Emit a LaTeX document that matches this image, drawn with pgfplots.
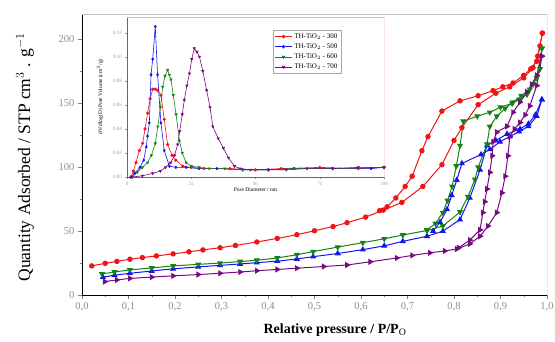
\documentclass[border=0pt]{standalone}
\usepackage{fontspec}
\setmainfont{Liberation Serif}
\usepackage{pgfplots}
\pgfplotsset{compat=1.18}

\definecolor{cRed}{RGB}{240,20,20}
\definecolor{cBlue}{RGB}{20,20,240}
\definecolor{cGreen}{RGB}{20,130,20}
\definecolor{cPurple}{RGB}{120,10,130}
\definecolor{frameRed}{RGB}{200,40,40}

\begin{document}
\begin{tikzpicture}
\useasboundingbox (-82pt,-46pt) rectangle (473pt,295pt);
% ---------------- main isotherm plot ----------------
\begin{axis}[
  name=main,
  at={(0pt,0pt)}, anchor=south west,
  scale only axis, width=465pt, height=281pt,
  xmin=0, xmax=1, ymin=0, ymax=220,
  axis x line*=bottom, axis y line*=left,
  tick align=outside,
  xtick={0,0.1,...,1.0}, minor x tick num=1,
  ytick={0,50,...,200}, minor y tick num=1,
  major tick length=4pt, minor tick length=2pt,
  /pgf/number format/assume math mode=true,
  xticklabel style={font=\fontsize{10.5}{11}\selectfont, text=black!45,
    /pgf/number format/.cd, fixed, fixed zerofill, precision=1, use comma},
  yticklabel style={font=\fontsize{10.5}{11}\selectfont, text=black!45},
  every axis x label/.style={at={(rel axis cs:0.544,0)}, yshift=-35pt, anchor=center},
  every axis y label/.style={at={(rel axis cs:0,0.49)}, xshift=-57pt, rotate=90, anchor=center},
  xlabel={\fontsize{14}{15}\selectfont\bfseries Relative pressure / P/P$_{\mathrm{O}}$},
  ylabel={\fontsize{17.5}{18}\selectfont Quantity Adsorbed / STP cm$^{3}$ . g$^{-1}$},
  every axis plot/.append style={line width=1pt, mark size=2.2pt},
]
% TH-TiO2 - 300
\addplot[cRed, mark=*] coordinates {
(0.021,22.8)(0.05,24.8)(0.075,26.3)(0.103,28)(0.13,29.3)(0.16,30.6)(0.196,32.2)
(0.23,33.8)(0.26,35.3)(0.297,37)(0.33,38.8)(0.376,41.5)(0.42,44.3)(0.462,47.2)
(0.50,50.3)(0.54,53.6)(0.57,56.6)(0.61,61)(0.648,66.5)(0.688,72.5)(0.733,85)
(0.774,102)(0.80,121)(0.817,131)(0.852,149)(0.89,158)(0.92,163)(0.95,170)
(0.97,178)(0.98,187)(0.99,205)};
\addplot[cRed, mark=*] coordinates {
(0.99,205)(0.985,195)(0.978,183)(0.965,177)(0.95,172)(0.927,166)(0.905,163)
(0.884,160)(0.852,156)(0.813,152)(0.774,144)(0.744,124)(0.731,113)(0.71,93)
(0.695,85)(0.675,76)(0.656,69)(0.64,66)};
% TH-TiO2 - 500
\addplot[cBlue, mark=triangle*, mark size=2.6pt] coordinates {
(0.045,14)(0.07,15.5)(0.103,17)(0.15,18.8)(0.196,20.5)(0.25,22)(0.297,23.2)
(0.34,24.3)(0.376,25.3)(0.42,26.5)(0.462,28.2)(0.497,30)(0.55,32.5)(0.604,35.5)
(0.65,38.5)(0.69,42)(0.742,46)(0.776,50)(0.813,59)(0.834,76)(0.856,98)
(0.871,117)(0.89,121)(0.914,126)(0.942,130)(0.96,134)(0.975,141)(0.989,153)};
\addplot[cBlue, mark=triangle*, mark size=2.6pt] coordinates {
(0.989,153)(0.978,140)(0.96,132)(0.94,128)(0.92,124)(0.899,120)(0.877,114)
(0.858,110)(0.817,103)(0.806,90)(0.795,78)(0.785,67)(0.77,57)(0.755,50)};
% TH-TiO2 - 600
\addplot[cGreen, mark=triangle*, mark size=2.6pt, mark options={rotate=180}] coordinates {
(0.043,16.5)(0.07,18)(0.103,19.7)(0.15,21.2)(0.196,22.8)(0.25,24)(0.297,25)
(0.34,26.2)(0.376,27.2)(0.42,29)(0.462,31.5)(0.497,34)(0.55,37.5)(0.604,41)
(0.65,44)(0.69,47)(0.742,50.5)(0.776,54)(0.813,65)(0.83,77)(0.845,90.5)
(0.852,100)(0.871,118)(0.877,132)(0.892,140)(0.91,146)(0.927,151)(0.945,156)
(0.963,161)(0.978,170)(0.989,193)};
\addplot[cGreen, mark=triangle*, mark size=2.6pt, mark options={rotate=180}] coordinates {
(0.989,193)(0.985,177)(0.97,165)(0.957,157)(0.94,153)(0.925,150)(0.9,147)
(0.877,143)(0.85,140)(0.82,136)(0.813,117)(0.805,101)(0.796,85)(0.786,74)
(0.776,64.5)(0.76,56)(0.742,51)};
% TH-TiO2 - 700
\addplot[cPurple, mark=triangle*, mark size=2.6pt, mark options={rotate=270}] coordinates {
(0.049,10.5)(0.075,11.8)(0.103,13)(0.15,14)(0.196,15)(0.25,16)(0.297,17)
(0.34,18)(0.376,19)(0.42,20)(0.462,21)(0.52,22.3)(0.57,23.5)(0.62,26)
(0.677,29)(0.71,31)(0.748,33)(0.78,34.5)(0.806,36)(0.834,40)(0.856,46)
(0.873,54)(0.892,64.5)(0.903,80)(0.91,93)(0.916,109)(0.92,124)(0.93,130)
(0.942,135)(0.953,141)(0.963,148)(0.978,164)(0.989,187)};
\addplot[cPurple, mark=triangle*, mark size=2.6pt, mark options={rotate=270}] coordinates {
(0.989,187)(0.978,172)(0.967,165)(0.957,159)(0.942,151)(0.927,143)(0.914,132)
(0.892,127.5)(0.884,120)(0.882,109)(0.877,96)(0.871,83)(0.866,73)(0.862,64.5)
(0.856,51)(0.834,43)(0.81,37)};
% frame: grey top edge, red right edge
\draw[black!25, line width=0.8pt] (rel axis cs:0,1) -- (rel axis cs:1,1);
\draw[frameRed, line width=0.8pt] (rel axis cs:1,0) -- (rel axis cs:1,1);
\end{axis}

% ---------------- inset: pore size distribution ----------------
\begin{axis}[
  name=inset,
  at={(45pt,118pt)}, anchor=south west,
  scale only axis, width=257pt, height=160pt,
  xmin=0, xmax=100, ymin=0, ymax=0.133,
  axis background/.style={fill=white},
  axis x line*=bottom, axis y line*=left,
  axis line style={black!60, line width=0.5pt},
  tick align=outside, major tick length=1.5pt,
  tick style={black!40},
  xtick={0,25,50,75,100},
  ytick={0,0.02,0.04,0.06,0.08,0.10,0.12},
  /pgf/number format/assume math mode=true,
  xticklabel style={font=\fontsize{5}{6}\selectfont, text=black!40},
  yticklabel style={font=\fontsize{5}{6}\selectfont, text=black!40,
    /pgf/number format/.cd, fixed, fixed zerofill, precision=2},
  scaled y ticks=false,
  every axis x label/.style={at={(rel axis cs:0.5,0)}, yshift=-13pt, anchor=center},
  every axis y label/.style={at={(rel axis cs:0,0.5)}, xshift=-27pt, rotate=90, anchor=center},
  xlabel={\fontsize{5.5}{6}\selectfont Pore Diameter / nm},
  ylabel={\fontsize{5.5}{6}\selectfont dV/dlog(D) Pore Volume (cm$^{3}$/g)},
  every axis plot/.append style={line width=0.6pt, mark size=1.3pt},
  legend style={at={(0.568,0.92)}, anchor=north west, draw=black!35,
    font=\fontsize{7}{8}\selectfont, row sep=0pt, inner sep=1.5pt},
  legend cell align=left,
  legend image post style={mark size=1.5pt},
]
\addplot[cRed, mark=*] coordinates {
(1.5,0)(2.5,0.005)(3.5,0.012)(4.8,0.022)(6.1,0.028)(7,0.040)(8,0.053)(9,0.065)
(10,0.073)(11,0.073)(12,0.072)(13.2,0.068)(14.5,0.048)(15.8,0.027)(17.5,0.018)
(19,0.014)(21.7,0.009)(25,0.008)(30,0.007)(40,0.007)(50,0.006)(60,0.007)
(75,0.008)(90,0.007)(100,0.008)};
\addlegendentry{TH-TiO$_2$ - 300}
\addplot[cBlue, mark=diamond*] coordinates {
(1.5,0)(3,0.003)(5,0.008)(6.5,0.014)(7.5,0.025)(8.0,0.034)(8.7,0.045)
(9.35,0.085)(10,0.098)(11,0.125)(11.9,0.085)(13.2,0.045)(14.5,0.022)
(16.5,0.009)(19,0.008)(23,0.008)(28,0.007)(35,0.007)(45,0.006)(55,0.006)
(65,0.007)(80,0.007)(95,0.007)(100,0.008)};
\addlegendentry{TH-TiO$_2$ - 500}
\addplot[cGreen, mark=triangle*, mark options={rotate=180}] coordinates {
(2,0)(4,0.004)(6,0.008)(8,0.012)(9.5,0.018)(11,0.028)(12,0.042)(13,0.058)
(13.9,0.075)(14.8,0.084)(15.8,0.089)(16.5,0.085)(17.1,0.081)(18,0.068)
(19.1,0.052)(20.4,0.030)(21.5,0.020)(23,0.012)(25,0.009)(28,0.008)(32,0.007)
(38,0.007)(45,0.006)(55,0.006)(65,0.007)(80,0.007)(100,0.008)};
\addlegendentry{TH-TiO$_2$ - 600}
\addplot[cPurple, mark=triangle*, mark options={rotate=180}] coordinates {
(2,0)(6,0.001)(10,0.003)(13,0.005)(15,0.008)(17,0.012)(18.5,0.018)
(19.7,0.027)(20.5,0.038)(21.5,0.052)(22.3,0.064)(23.3,0.076)(24.3,0.086)
(25.2,0.098)(26.2,0.107)(27.2,0.104)(28.2,0.100)(29.5,0.088)(31,0.072)
(32.3,0.058)(33.4,0.042)(35.5,0.032)(37.5,0.024)(39.5,0.016)(41.8,0.009)
(44,0.007)(48,0.006)(55,0.006)(62,0.006)(70,0.007)(80,0.007)(90,0.008)(100,0.008)};
\addlegendentry{TH-TiO$_2$ - 700}
\draw[black!25, line width=0.5pt] (rel axis cs:0,1) -- (rel axis cs:1,1);
\draw[frameRed, line width=0.6pt] (rel axis cs:1,0) -- (rel axis cs:1,1);
\end{axis}
\end{tikzpicture}
\end{document}
